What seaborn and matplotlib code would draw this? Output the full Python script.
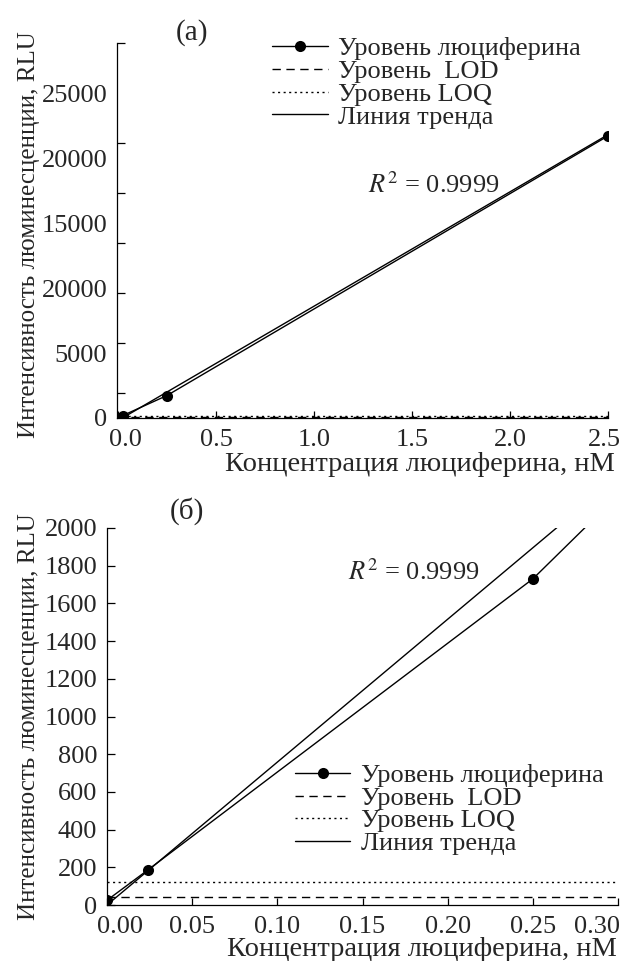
import numpy as np
import pandas as pd
import matplotlib
matplotlib.use("Agg")
import matplotlib.pyplot as plt
import matplotlib.transforms as mtransforms
from matplotlib.lines import Line2D
import seaborn as sns

# ---- data ----
conc = [0.0, 0.024, 0.25, 2.5]            # nM
rlu = [25, 186, 1730, 21700]              # RLU
lod_level = 45
loq_level = 120
trend_a = (8800, -200)                    # slope, intercept (panel a)
trend_b = (7580, 0)                       # slope, intercept (panel b)
r2_text = "0.9999"

xticks_a = [0.0, 0.5, 1.0, 1.5, 2.0, 2.5]
xticklabels_a = ["0.0", "0.5", "1.0", "1.5", "2.0", "2.5"]
yticks_a = [0, 5000, 10000, 15000, 20000, 25000]
yticklabels_a = ["0", "5000", "20000", "15000", "20000", "25000"]
xticks_b = [0.00, 0.05, 0.10, 0.15, 0.20, 0.25, 0.30]
xticklabels_b = ["0.00", "0.05", "0.10", "0.15", "0.20", "0.25", "0.30"]
yticks_b = list(range(0, 2001, 200))

legend_labels = ["Уровень люциферина", "Уровень  LOD", "Уровень LOQ", "Линия тренда"]
xlabel = "Концентрация люциферина, нМ"
ylabel = "Интенсивность люминесценции, RLU"

sns.set_theme(style="ticks")
plt.rcParams["font.family"] = ["Liberation Serif", "DejaVu Serif"]
plt.rcParams["mathtext.fontset"] = "stix"
plt.rcParams["axes.linewidth"] = 0.9

FS = 19
df = pd.DataFrame({"conc": conc, "rlu": rlu})

fig = plt.figure(figsize=(6.22, 9.61), dpi=100)
W, H = 622, 961
ax1 = fig.add_axes([117 / W, 1 - 418 / H, (608 - 117) / W, (418 - 43) / H])
ax2 = fig.add_axes([107 / W, 1 - 905 / H, (618 - 107) / W, (905 - 528) / H])


def draw(ax, xmax, trend):
    tx = np.array([0.0, xmax])
    tdf = pd.DataFrame({"x": tx, "y": trend[0] * tx + trend[1]})
    sns.lineplot(data=tdf, x="x", y="y", ax=ax, color="black", lw=1.0)
    sns.lineplot(data=df, x="conc", y="rlu", ax=ax, color="black", lw=1.0,
                 marker="o", markersize=8, markeredgewidth=0, sort=False)
    ax.axhline(lod_level, color="black", lw=1.0, ls=(0, (6, 4)))
    ax.axhline(loq_level, color="black", lw=1.0, ls=(0, (1.5, 2.5)))
    for s in ["top", "right"]:
        ax.spines[s].set_visible(False)
    for s in ["left", "bottom"]:
        ax.spines[s].set_color("black")
    ax.set_facecolor("white")
    ax.set_xlabel(xlabel, fontsize=20.5, ha="right")
    ax.set_ylabel(ylabel, fontsize=18)


def shift(label, dx_px):
    off = mtransforms.ScaledTranslation(dx_px / 100, 0, fig.dpi_scale_trans)
    label.set_transform(label.get_transform() + off)


def legend(ax, anchor, spacing):
    handles = [
        Line2D([], [], color="black", lw=1.0, marker="o", markersize=8, markeredgewidth=0),
        Line2D([], [], color="black", lw=1.0, ls=(0, (6, 4))),
        Line2D([], [], color="black", lw=1.0, ls=(0, (1.5, 2.5))),
        Line2D([], [], color="black", lw=1.0),
    ]
    ax.legend(handles, legend_labels, loc="upper left", bbox_to_anchor=anchor,
              frameon=False, fontsize=FS, borderpad=0, borderaxespad=0,
              labelspacing=spacing, handlelength=2.1, handletextpad=0.4)


# ---- panel (а) ----
draw(ax1, 2.5, trend_a)
ax1.set_xlim(-0.005, 2.5)
ax1.set_ylim(0, 28850)
ax1.set_xticks(xticks_a, xticklabels_a, fontsize=FS)
ax1.set_yticks(yticks_a, yticklabels_a, fontsize=FS)
ax1.set_yticks(np.arange(28850, 0, -3850), minor=True)
ax1.tick_params(axis="y", which="major", length=0, pad=7)
ax1.tick_params(axis="y", which="minor", direction="in", length=6, width=0.9, color="black")
ax1.tick_params(axis="x", which="major", direction="in", length=5, width=0.9, color="black", pad=8)
xl = ax1.get_xticklabels()
shift(xl[0], 7)
shift(xl[-1], -4)
ax1.xaxis.set_label_coords((615 - 117) / 491, -0.090)
ax1.yaxis.set_label_coords((40 - 117) / 491, 0.488)
ax1.text(0.153, 1.027, "(а)", transform=ax1.transAxes, fontsize=21, ha="center", va="center")
ax1.text(0.511, 0.621, r"$R^2$ = " + r2_text, transform=ax1.transAxes, fontsize=FS,
         ha="left", va="center")
legend(ax1, (0.316, 1.016), -0.03)

# ---- panel (б) ----
draw(ax2, 0.30, trend_b)
ax2.set_xlim(0, 0.30)
ax2.set_ylim(0, 2000)
ax2.set_xticks(xticks_b, xticklabels_b, fontsize=FS)
ax2.set_yticks(yticks_b, [str(v) for v in yticks_b], fontsize=FS)
ax2.tick_params(axis="y", which="major", direction="in", length=6, width=0.9, color="black", pad=7)
ax2.tick_params(axis="x", which="major", direction="in", length=5, width=0.9, color="black", pad=8)
xl = ax2.get_xticklabels()
shift(xl[0], 13)
shift(xl[-1], -21)
ax2.xaxis.set_label_coords((617 - 107) / 511, -0.086)
ax2.yaxis.set_label_coords((40 - 107) / 511, 0.5)
ax2.text(0.157, 1.045, "(б)", transform=ax2.transAxes, fontsize=21, ha="center", va="center")
ax2.text(0.472, 0.884, r"$R^2$ = " + r2_text, transform=ax2.transAxes, fontsize=FS,
         ha="left", va="center")
legend(ax2, (0.368, 0.375), -0.03)

fig.patch.set_facecolor("white")
fig.savefig("out.png", dpi=100, facecolor="white")
